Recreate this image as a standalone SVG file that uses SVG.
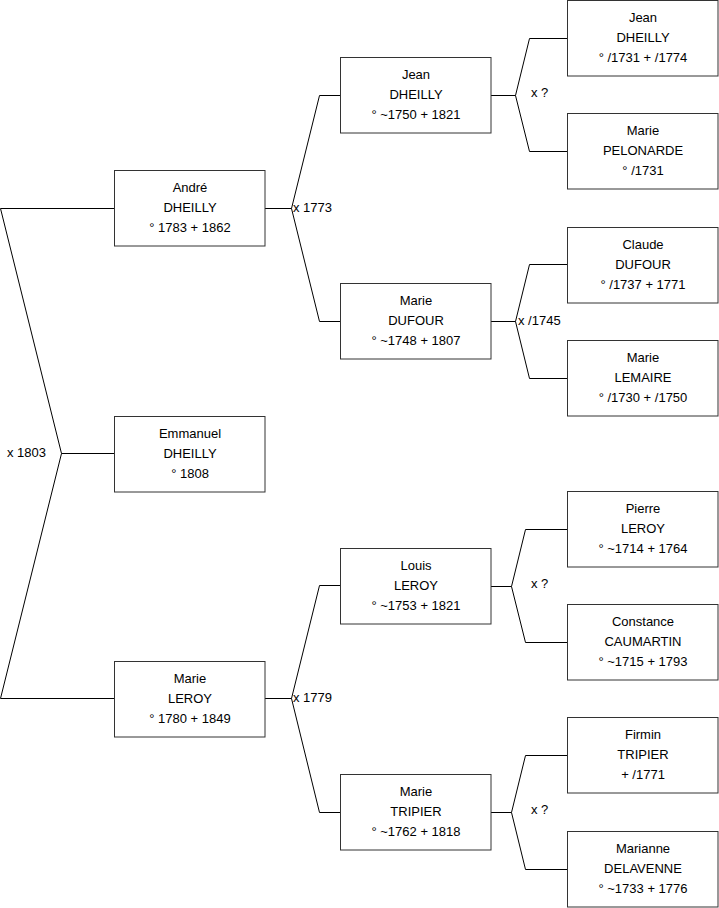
<svg xmlns="http://www.w3.org/2000/svg" width="719" height="908" viewBox="0 0 719 908">
<style>
.bg{fill:#fff}
.box rect{fill:#fff;stroke:#333;stroke-width:1}
.box text{font-family:"Liberation Sans",Arial,sans-serif;font-size:13px;fill:#000;text-anchor:middle}
.lbl{font-family:"Liberation Sans",Arial,sans-serif;font-size:13px;fill:#000}
#connectors path{fill:none;stroke:#000;stroke-width:1}
</style>
<rect class="bg" x="0" y="0" width="719" height="908"/>
<g id="connectors">
  <path d="M114.5,208.5 H0.5 L61.5,453.5 L0.5,698.5 H114.5 M61.5,453.5 H114.5"/>
  <path d="M265,208.5 H291.5 M340.5,95.5 H319.5 L291.5,208.5 L319.5,321.5 H340.5"/>
  <path d="M265,698.5 H291.5 M340.5,585.5 H319.5 L291.5,698.5 L319.5,812.5 H340.5"/>
  <path d="M491,95.5 H515.5 M567.5,38.5 H529.5 L515.5,95.5 L529.5,151.5 H567.5"/>
  <path d="M491,321.5 H515.5 M567.5,264.5 H529.5 L515.5,321.5 L529.5,378.5 H567.5"/>
  <path d="M491,586.5 H511.5 M567.5,529.5 H525.5 L511.5,586.5 L525.5,642.5 H567.5"/>
  <path d="M491,812.5 H511.5 M567.5,755.5 H525.5 L511.5,812.5 L525.5,869.5 H567.5"/>
  <text class="lbl" x="7" y="457">x 1803</text>
  <text class="lbl" x="293" y="212">x 1773</text>
  <text class="lbl" x="293" y="702">x 1779</text>
  <text class="lbl" x="531" y="97">x ?</text>
  <text class="lbl" x="518" y="325">x /1745</text>
  <text class="lbl" x="531" y="588">x ?</text>
  <text class="lbl" x="531" y="814">x ?</text>
</g>
<g id="andre" class="box"><rect x="114.5" y="170.5" width="150.5" height="75.5"/><text x="190" y="192">André</text><text x="190" y="212">DHEILLY</text><text x="190" y="232">° 1783 + 1862</text></g>
<g id="emmanuel" class="box"><rect x="114.5" y="416.5" width="150.5" height="75.5"/><text x="190" y="438">Emmanuel</text><text x="190" y="458">DHEILLY</text><text x="190" y="478">° 1808</text></g>
<g id="marie-leroy" class="box"><rect x="114.5" y="661.5" width="150.5" height="75.5"/><text x="190" y="683">Marie</text><text x="190" y="703">LEROY</text><text x="190" y="723">° 1780 + 1849</text></g>
<g id="jean-dheilly-1750" class="box"><rect x="340.5" y="57.5" width="150.5" height="75.5"/><text x="416" y="79">Jean</text><text x="416" y="99">DHEILLY</text><text x="416" y="119">° ~1750 + 1821</text></g>
<g id="marie-dufour" class="box"><rect x="340.5" y="283.5" width="150.5" height="75.5"/><text x="416" y="305">Marie</text><text x="416" y="325">DUFOUR</text><text x="416" y="345">° ~1748 + 1807</text></g>
<g id="louis-leroy" class="box"><rect x="340.5" y="548.5" width="150.5" height="75.5"/><text x="416" y="570">Louis</text><text x="416" y="590">LEROY</text><text x="416" y="610">° ~1753 + 1821</text></g>
<g id="marie-tripier" class="box"><rect x="340.5" y="774.5" width="150.5" height="75.5"/><text x="416" y="796">Marie</text><text x="416" y="816">TRIPIER</text><text x="416" y="836">° ~1762 + 1818</text></g>
<g id="jean-dheilly-1731" class="box"><rect x="567.5" y="0.5" width="150.5" height="75.5"/><text x="643" y="22">Jean</text><text x="643" y="42">DHEILLY</text><text x="643" y="62">° /1731 + /1774</text></g>
<g id="marie-pelonarde" class="box"><rect x="567.5" y="113.5" width="150.5" height="75.5"/><text x="643" y="135">Marie</text><text x="643" y="155">PELONARDE</text><text x="643" y="175">° /1731</text></g>
<g id="claude-dufour" class="box"><rect x="567.5" y="227.5" width="150.5" height="75.5"/><text x="643" y="249">Claude</text><text x="643" y="269">DUFOUR</text><text x="643" y="289">° /1737 + 1771</text></g>
<g id="marie-lemaire" class="box"><rect x="567.5" y="340.5" width="150.5" height="75.5"/><text x="643" y="362">Marie</text><text x="643" y="382">LEMAIRE</text><text x="643" y="402">° /1730 + /1750</text></g>
<g id="pierre-leroy" class="box"><rect x="567.5" y="491.5" width="150.5" height="75.5"/><text x="643" y="513">Pierre</text><text x="643" y="533">LEROY</text><text x="643" y="553">° ~1714 + 1764</text></g>
<g id="constance-caumartin" class="box"><rect x="567.5" y="604.5" width="150.5" height="75.5"/><text x="643" y="626">Constance</text><text x="643" y="646">CAUMARTIN</text><text x="643" y="666">° ~1715 + 1793</text></g>
<g id="firmin-tripier" class="box"><rect x="567.5" y="717.5" width="150.5" height="75.5"/><text x="643" y="739">Firmin</text><text x="643" y="759">TRIPIER</text><text x="643" y="779">+ /1771</text></g>
<g id="marianne-delavenne" class="box"><rect x="567.5" y="831.5" width="150.5" height="75.5"/><text x="643" y="853">Marianne</text><text x="643" y="873">DELAVENNE</text><text x="643" y="893">° ~1733 + 1776</text></g>
</svg>
